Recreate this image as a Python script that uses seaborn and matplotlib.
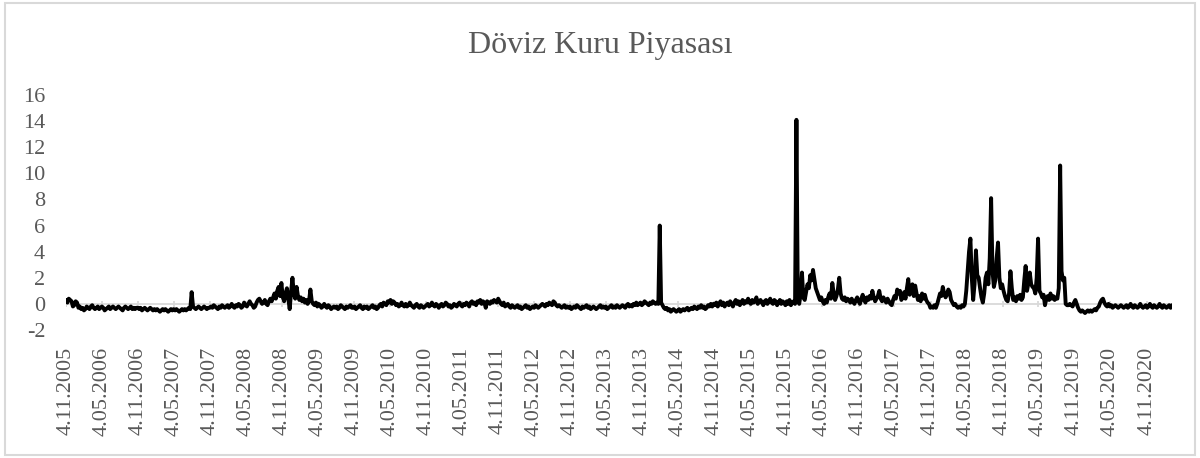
import matplotlib
matplotlib.use("Agg")
import matplotlib.pyplot as plt
from matplotlib.patches import Rectangle
import seaborn as sns
import pandas as pd
import numpy as np

# ---------------- data (weekly, starting 4.11.2005) ----------------
title = "Döviz Kuru Piyasası"
start_date = "2005-11-04"

w_2005_06 = [0.3, 0.1, 0.4, 0.3, 0.2, -0.2, -0.1, 0.2, 0.1, -0.3, -0.2, -0.4, -0.3,
             -0.5, -0.4, -0.2, -0.3, -0.4, -0.2, -0.1, -0.3, -0.4, -0.3, -0.2, -0.4, -0.3,
             -0.2, -0.3, -0.5, -0.4, -0.3, -0.2, -0.4, -0.3, -0.2, -0.3, -0.4, -0.3, -0.2,
             -0.3, -0.4, -0.5, -0.3, -0.2, -0.3, -0.4, -0.3, -0.2, -0.4, -0.3, -0.4, -0.3]
w_2006_07 = [-0.3, -0.4, -0.3, -0.5, -0.4, -0.3, -0.4, -0.5, -0.4, -0.3, -0.4, -0.5, -0.4,
             -0.5, -0.4, -0.5, -0.6, -0.5, -0.4, -0.5, -0.4, -0.5, -0.6, -0.5, -0.4, -0.5,
             -0.4, -0.5, -0.4, -0.5, -0.6, -0.5, -0.4, -0.5, -0.4, -0.5, -0.4, -0.3, -0.4,
             0.9, -0.2, -0.3, -0.4, -0.3, -0.2, -0.3, -0.4, -0.3, -0.2, -0.3, -0.4, -0.3]
w_2007_08 = [-0.3, -0.2, -0.3, -0.1, -0.2, -0.3, -0.4, -0.2, -0.3, -0.1, -0.2, -0.3, -0.2,
             -0.1, -0.3, -0.2, 0.0, -0.2, -0.3, -0.1, -0.2, 0.0, -0.1, -0.3, -0.2, 0.1,
             -0.1, -0.2, 0.0, 0.2, 0.0, -0.1, -0.3, -0.2, 0.1, 0.3, 0.4, 0.2, 0.0, 0.1,
             0.3, 0.0, -0.1, 0.2, 0.4, 0.2, 0.5, 0.8, 0.4, 1.0, 1.3, 0.6]
w_2008_09 = [1.6, 0.5, 0.2, 0.8, 1.2, 0.4, -0.4, 0.9, 2.0, 0.8, 0.4, 1.3, 0.6,
             0.3, 0.5, 0.2, 0.4, 0.1, 0.3, 0.0, 0.2, 1.1, 0.2, 0.0, -0.1, 0.1,
             -0.2, 0.0, -0.1, -0.3, -0.2, 0.0, -0.2, -0.3, -0.1, -0.2, -0.4, -0.3, -0.2,
             -0.3, -0.2, -0.4, -0.3, -0.1, -0.2, -0.3, -0.4, -0.2, -0.3, -0.2, -0.1, -0.3]
w_2009_10 = [-0.3, -0.2, -0.4, -0.3, -0.2, -0.1, -0.3, -0.4, -0.2, -0.3, -0.2, -0.4, -0.3,
             -0.2, -0.1, -0.3, -0.2, -0.4, -0.3, -0.1, 0.0, -0.2, 0.1, 0.0, -0.1, 0.2,
             0.1, 0.3, 0.0, 0.2, 0.1, -0.1, 0.0, -0.2, -0.1, 0.1, -0.1, -0.2, 0.0,
             -0.2, -0.1, 0.1, -0.1, -0.2, -0.3, -0.1, 0.0, -0.2, -0.3, -0.1, -0.2, -0.3]
w_2010_11 = [-0.2, -0.1, 0.0, -0.2, -0.1, 0.1, -0.1, -0.2, 0.0, -0.1, -0.3, -0.1, 0.0,
             -0.2, -0.1, 0.1, 0.0, -0.2, -0.1, -0.3, -0.2, 0.0, -0.1, -0.2, 0.0, 0.1,
             -0.1, -0.2, 0.0, -0.1, 0.1, 0.0, -0.2, 0.1, 0.2, 0.0, 0.1, -0.1, 0.2,
             0.1, 0.3, 0.0, 0.2, 0.1, -0.3, 0.2, 0.1, 0.0, 0.2, 0.1, 0.3, 0.2]
w_2011_12 = [0.1, 0.4, 0.2, 0.0, -0.1, 0.1, -0.2, -0.1, 0.0, -0.2, -0.3, -0.1, -0.2,
             -0.3, -0.2, -0.1, -0.3, -0.2, -0.4, -0.3, -0.2, -0.1, -0.3, -0.2, -0.4, -0.3,
             -0.2, -0.3, -0.1, -0.2, -0.3, -0.2, -0.1, 0.0, -0.1, -0.2, 0.0, -0.1, 0.1,
             0.0, -0.1, 0.2, 0.1, -0.1, -0.2, -0.1, -0.2, -0.3, -0.2, -0.1, -0.3, -0.2]
w_2012_13 = [-0.3, -0.2, -0.4, -0.3, -0.2, -0.3, -0.1, -0.2, -0.3, -0.4, -0.2, -0.3, -0.2,
             -0.1, -0.3, -0.2, -0.4, -0.3, -0.2, -0.3, -0.4, -0.3, -0.2, -0.1, -0.3, -0.2,
             -0.3, -0.2, -0.4, -0.3, -0.2, -0.1, -0.3, -0.2, -0.3, -0.1, -0.2, -0.3, -0.2,
             -0.1, -0.2, -0.3, -0.1, 0.0, -0.2, -0.1, -0.2, 0.0, -0.1, 0.1, -0.1, 0.0]
w_2013_14 = [0.1, -0.1, 0.0, 0.2, 0.1, 0.0, -0.1, 0.1, 0.0, 0.2, 0.1, 0.0, 0.1,
             0.0, 6.0, 0.1, -0.1, -0.3, -0.4, -0.3, -0.5, -0.4, -0.6, -0.5, -0.4, -0.5,
             -0.6, -0.5, -0.4, -0.6, -0.5, -0.4, -0.5, -0.4, -0.3, -0.5, -0.4, -0.3, -0.4,
             -0.2, -0.3, -0.4, -0.2, -0.3, -0.1, -0.3, -0.2, -0.4, -0.3, -0.1, -0.2, 0.0]
w_2014_15 = [-0.2, 0.0, -0.1, 0.1, -0.2, 0.0, 0.2, -0.1, 0.1, -0.2, 0.0, 0.1, -0.1,
             0.2, 0.0, -0.2, 0.1, 0.3, 0.0, 0.2, -0.1, 0.1, 0.3, 0.0, 0.2, 0.1,
             0.4, 0.1, 0.0, 0.3, 0.1, 0.2, 0.5, 0.0, 0.2, 0.3, 0.1, -0.1, 0.2,
             0.3, 0.0, 0.2, 0.4, 0.1, 0.0, 0.3, 0.2, -0.1, 0.1, 0.3, 0.0, 0.2]
w_2015_16 = [0.1, -0.1, 0.2, 0.0, 0.3, -0.1, 0.1, 0.2, 0.0, 14.1, 0.4, 0.0, 0.7,
             2.4, 0.5, 0.3, 0.9, 1.5, 1.2, 2.2, 1.8, 2.6, 1.9, 1.2, 0.9, 0.6,
             0.3, 0.5, 0.2, 0.0, 0.3, 0.1, 0.5, 0.8, 0.4, 1.6, 0.8, 0.3, 0.6,
             1.1, 2.0, 0.8, 0.4, 0.3, 0.5, 0.2, 0.4, 0.3, 0.1, 0.4, 0.2, 0.0]
w_2016_17 = [0.3, 0.5, 0.2, 0.0, 0.4, 0.7, 0.3, 0.1, 0.5, 0.3, 0.6, 0.4, 1.0,
             0.5, 0.2, 0.4, 0.6, 1.0, 0.4, 0.2, 0.5, 0.3, 0.1, 0.4, 0.2, 0.0,
             -0.1, 0.3, 0.6, 0.4, 1.1, 0.8, 1.0, 0.3, 0.5, 0.9, 0.4, 1.2, 1.9,
             0.7, 1.0, 1.5, 0.6, 1.4, 0.8, 0.3, 0.6, 0.2, 0.8, 0.4, 0.7, 0.3]
w_2017_18 = [0.1, 0.0, -0.3, -0.2, -0.3, -0.1, -0.3, 0.0, 0.4, 0.8, 0.6, 1.3, 0.8,
             0.5, 0.7, 1.1, 0.9, 0.3, 0.1, -0.1, 0.0, -0.2, -0.3, -0.2, -0.3, -0.1,
             -0.2, 0.0, 1.0, 2.5, 4.0, 5.0, 2.0, 0.3, 1.5, 4.1, 2.2, 2.0, 1.2,
             0.5, 0.1, 0.8, 2.0, 2.4, 1.5, 3.5, 8.1, 2.5, 1.3, 1.8, 3.5, 4.7]
w_2018_19 = [2.0, 1.2, 1.5, 1.0, 0.6, 0.3, 0.2, 0.8, 2.5, 1.2, 0.3, 0.5, 0.2,
             0.6, 0.4, 0.7, 0.3, 0.5, 1.8, 2.9, 1.0, 1.6, 2.4, 1.5, 1.3, 1.2,
             0.8, 2.0, 5.0, 1.0, 0.8, 0.5, 0.7, -0.1, 0.4, 0.6, 0.3, 0.8, 0.4,
             0.6, 0.3, 0.5, 0.4, 1.2, 10.6, 2.5, 1.8, 2.0, 0.0, -0.1, -0.1, 0.0]
w_2019_20 = [-0.1, -0.2, 0.1, 0.3, 0.0, -0.3, -0.5, -0.6, -0.5, -0.6, -0.7, -0.6, -0.5,
             -0.6, -0.5, -0.6, -0.5, -0.4, -0.5, -0.3, -0.2, 0.1, 0.3, 0.4, 0.1, -0.1,
             -0.2, 0.0, -0.2, -0.1, -0.3, -0.2, -0.1, -0.2, -0.3, -0.2, -0.1, -0.2, -0.3,
             -0.2, -0.1, -0.3, -0.2, 0.0, -0.2, -0.3, -0.1, -0.2, -0.3, -0.2, 0.0, -0.2]
w_2020_21 = [-0.3, -0.2, -0.1, -0.3, -0.2, 0.0, -0.2, -0.3, -0.1, -0.2, -0.3,
             -0.2, 0.0, -0.2, -0.3, -0.1, -0.2, -0.3, -0.2, -0.1, -0.3, -0.1]

tick_labels = ["4.11.2005", "4.05.2006", "4.11.2006", "4.05.2007", "4.11.2007",
               "4.05.2008", "4.11.2008", "4.05.2009", "4.11.2009", "4.05.2010",
               "4.11.2010", "4.05.2011", "4.11.2011", "4.05.2012", "4.11.2012",
               "4.05.2013", "4.11.2013", "4.05.2014", "4.11.2014", "4.05.2015",
               "4.11.2015", "4.05.2016", "4.11.2016", "4.05.2017", "4.11.2017",
               "4.05.2018", "4.11.2018", "4.05.2019", "4.11.2019", "4.05.2020",
               "4.11.2020"]
y_ticks = [-2, 0, 2, 4, 6, 8, 10, 12, 14, 16]

# ---------------- build frame ----------------
values = (w_2005_06 + w_2006_07 + w_2007_08 + w_2008_09 + w_2009_10 + w_2010_11 +
          w_2011_12 + w_2012_13 + w_2013_14 + w_2014_15 + w_2015_16 + w_2016_17 +
          w_2017_18 + w_2018_19 + w_2019_20 + w_2020_21)
dates = pd.date_range(start_date, periods=len(values), freq="7D")
df = pd.DataFrame({"Tarih": dates, "Deger": values})
tick_pos = pd.to_datetime(tick_labels, format="%d.%m.%Y")

# ---------------- style ----------------
sns.set_theme(style="white")
plt.rcParams["font.family"] = ["Liberation Serif", "DejaVu Serif"]
text_gray = "#595959"
grid_gray = "#d9d9d9"

fig = plt.figure(figsize=(12, 4.58), dpi=100)
ax = fig.add_axes([66 / 1200, 1 - 330 / 458, (1172 - 66) / 1200, (330 - 95) / 458])

ax.axhline(0, color=grid_gray, lw=1.3, zorder=1)
ax.vlines(tick_pos, -0.25, 0.25, color=grid_gray, lw=1.3, zorder=1)
sns.lineplot(data=df, x="Tarih", y="Deger", ax=ax, color="black", lw=2.8, zorder=3)

ax.set_xlim(dates[0], dates[-1])
ax.set_ylim(-2, 16)
ax.set_yticks(y_ticks)
ax.set_yticklabels([str(v) for v in y_ticks])
ax.set_xticks(tick_pos)
ax.set_xticklabels(tick_labels, rotation=90)
ax.tick_params(axis="x", length=0, pad=12, labelsize=16, labelcolor=text_gray)
ax.tick_params(axis="y", length=0, pad=15, labelsize=16, labelcolor=text_gray)
ax.set_xlabel("")
ax.set_ylabel("")
for s in ax.spines.values():
    s.set_visible(False)
ax.grid(False)

fig.text(0.5, 1 - 45 / 458, title, ha="center", va="center",
         fontsize=23, color=text_gray)

fig.patches.append(Rectangle((5 / 1200, 3 / 458), 1190 / 1200, 452 / 458,
                             transform=fig.transFigure, fill=False,
                             edgecolor=grid_gray, lw=1.5))

fig.savefig("out.png", dpi=100, facecolor="white")
